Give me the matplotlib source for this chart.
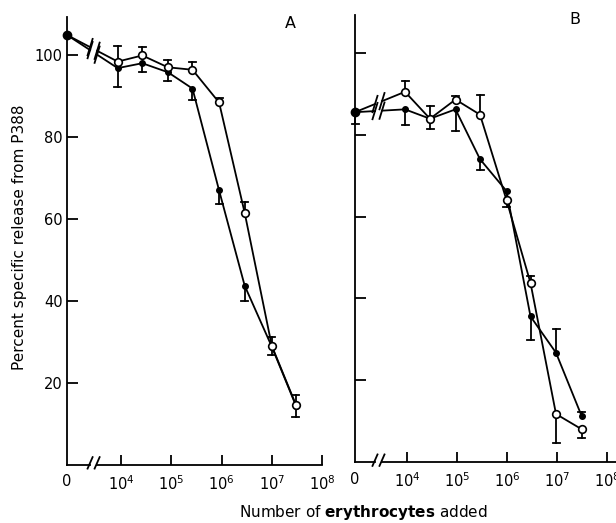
"""
Percent specific release from P388 vs number of erythrocytes added (panels A, B).
"""
import numpy as np
import matplotlib.pyplot as plt

# ---- data (x given as log10 of cell number) ----
zero_a = 105.0
logx_a = [3.93, 4.42, 4.93, 5.42, 5.95, 6.46, 7.00, 7.48]
open_a = [98.5, 100.0, 97.1, 96.5, 88.5, 61.5, 29.0, 14.6]
open_a_lo = [0, 0, 0, 0, 0, 0, 0, 0]
open_a_hi = [3.7, 2.0, 1.9, 1.9, 1.1, 2.6, 2.2, 2.5]
fill_a = [96.9, 98.1, 95.9, 91.9, 67.0, 43.7, 28.8, 14.4]
fill_a_lo = [4.6, 2.2, 2.2, 2.7, 3.4, 3.7, 2.0, 2.9]
fill_a_hi = [0, 0, 0, 0, 0, 0, 0, 0]

zero_b = 85.6
zero_b_err = 3.0
logx_b = [3.96, 4.46, 4.97, 5.46, 5.99, 6.47, 6.98, 7.49]
open_b = [90.6, 84.0, 88.7, 85.0, 64.1, 43.8, 11.7, 8.0]
open_b_lo = [0, 0, 0, 0, 0, 0, 7.0, 2.2]
open_b_hi = [2.6, 0, 0.8, 4.7, 0, 1.8, 0, 0]
fill_b = [86.3, 84.0, 86.3, 74.1, 66.3, 35.6, 26.7, 11.3]
fill_b_lo = [3.9, 2.4, 5.2, 2.7, 4.0, 5.8, 0, 0]
fill_b_hi = [0, 3.1, 0, 0, 0, 0, 5.7, 0.8]

yticks = [20, 40, 60, 80, 100]
xticks = [4, 5, 6, 7, 8]

fig = plt.figure(figsize=(6.16, 5.23), dpi=100)
W, H = 616, 523


def axes_px(left, right, top, bottom):
    return fig.add_axes([left / W, 1 - bottom / H, (right - left) / W, (bottom - top) / H])


ax_a = axes_px(67, 322, 17, 464.5)
ax_b = axes_px(355, 619.5, 15, 461.8)

lw = 1.3
CAP = 0.07  # half cap width in log units


def bars(ax, xs, ys, lo, hi, clip=True):
    # one-sided error bars: cap only at the far end
    for x, y, l, h in zip(xs, ys, lo, hi):
        for e in (-l, h):
            if e:
                ax.plot([x, x], [y, y + e], color='k', lw=lw, clip_on=clip, zorder=2)
                ax.plot([x - CAP, x + CAP], [y + e, y + e], color='k', lw=lw,
                        clip_on=clip, zorder=2)


def draw_panel(ax, x0, xmax, zero, logx, op, op_lo, op_hi, fi, fi_lo, fi_hi,
               brk, zero_err=0.0, letter='A', letter_xy=(0, 0), labels=True):
    ax.set_xlim(x0, xmax)
    ax.set_ylim(0, 109.4)
    for s in ['top', 'right', 'bottom']:
        ax.spines[s].set_visible(False)
    ax.spines['left'].set_linewidth(lw)

    # x axis with a break
    b0, b1 = brk
    ax.plot([x0, b0], [0, 0], color='k', lw=lw, clip_on=False)
    ax.plot([b1, xmax], [0, 0], color='k', lw=lw, clip_on=False)
    for bx in (b0, b1):
        ax.plot([bx - 0.05, bx + 0.05], [-1.0, 1.8], color='k', lw=lw, clip_on=False)

    # joining lines from the zero point, broken
    for y1 in (op[0], fi[0]):
        def yat(x):
            return zero + (y1 - zero) * (x - x0) / (logx[0] - x0)
        ax.plot([x0, b0], [zero, yat(b0)], color='k', lw=lw, clip_on=False)
        ax.plot([b1, logx[0]], [yat(b1), y1], color='k', lw=lw)
        for bx in (b0, b1):
            yy = yat(bx)
            ax.plot([bx - 0.05, bx + 0.05], [yy - 2.0, yy + 2.0], color='k', lw=lw)

    bars(ax, [x0], [zero], [zero_err], [0], clip=False)
    ax.plot([x0], [zero], 'o', color='k', ms=6, clip_on=False, zorder=5)

    bars(ax, logx, fi, fi_lo, fi_hi)
    bars(ax, logx, op, op_lo, op_hi)
    ax.plot(logx, fi, '-o', color='k', lw=lw, ms=4, zorder=3)
    ax.plot(logx, op, '-o', color='k', lw=lw, ms=5.5, mfc='white', mec='k',
            mew=1.2, zorder=4)

    ax.set_xticks([x0] + xticks)
    ax.set_xticklabels(['0'] + [r'$10^{%d}$' % t for t in xticks], fontsize=10.5)
    ax.tick_params(axis='x', direction='in', length=7, width=lw, pad=7)
    ax.xaxis.get_major_ticks()[0].tick1line.set_visible(False)

    ax.set_yticks(yticks)
    ax.tick_params(axis='y', direction='in', length=8, width=lw, pad=3,
                   labelsize=10.5, labelleft=labels)

    ax.text(letter_xy[0], letter_xy[1], letter, fontsize=11.5,
            transform=fig.transFigure, ha='center', va='center')


draw_panel(ax_a, 2.92, 8.0, zero_a, logx_a,
           open_a, open_a_lo, open_a_hi, fill_a, fill_a_lo, fill_a_hi,
           brk=(3.38, 3.52), letter='A', letter_xy=(290 / W, 1 - 23 / H))

draw_panel(ax_b, 2.96, 8.25, zero_b, logx_b,
           open_b, open_b_lo, open_b_hi, fill_b, fill_b_lo, fill_b_hi,
           brk=(3.36, 3.50), zero_err=zero_b_err, letter='B',
           letter_xy=(575 / W, 1 - 20 / H), labels=False)

fig.text(20 / W, 1 - 237 / H, 'Percent specific release from P388',
         rotation=90, ha='center', va='center', fontsize=11)
fig.text(363 / W, 1 - 513 / H, r'Number of $\bf{erythrocytes}$ added',
         ha='center', va='center', fontsize=11)

fig.savefig('out.png', dpi=100, facecolor='white')
